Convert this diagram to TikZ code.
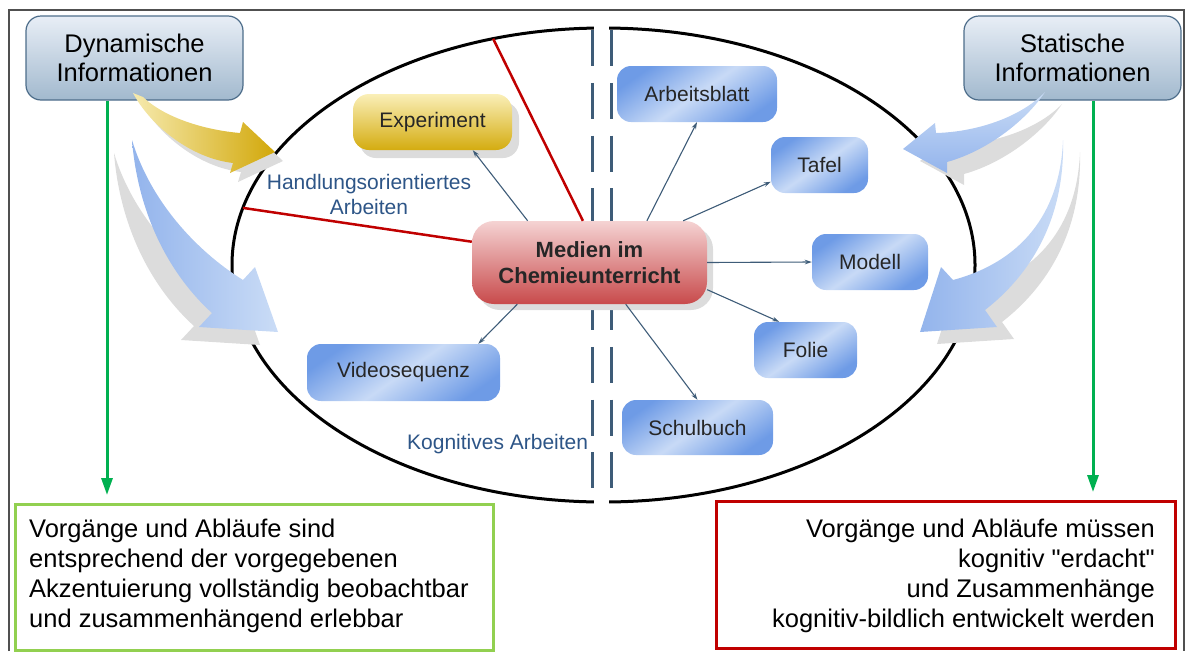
\documentclass[tikz,border=0pt]{standalone}
\usepackage{fontspec}
\setmainfont{Liberation Sans}[Ligatures=TeXOff]
\usetikzlibrary{arrows.meta,shapes.geometric,shadows,calc}
\newcommand\fsz[2]{\fontsize{#1}{#2}\selectfont}

\definecolor{framegrey}{HTML}{505050}
\definecolor{infotop}{HTML}{E8EEF6}
\definecolor{infobot}{HTML}{A2B9CE}
\definecolor{infoline}{HTML}{4D6D8A}
\definecolor{medtop}{HTML}{F5D3D3}
\definecolor{medbot}{HTML}{C84A4B}
\definecolor{exptop}{HTML}{FAEFB8}
\definecolor{expbot}{HTML}{D4AC10}
\definecolor{bdark}{HTML}{6E9BE6}
\definecolor{blight}{HTML}{C8DAF6}
\definecolor{arrdark}{HTML}{93B4EC}
\definecolor{arrlight}{HTML}{CADCF6}
\definecolor{ylight}{HTML}{F6EAAE}
\definecolor{ydark}{HTML}{D2A80A}
\definecolor{shadowgrey}{HTML}{DCDCDC}
\definecolor{slate}{HTML}{3E5C78}
\definecolor{linkred}{HTML}{C00000}
\definecolor{gline}{HTML}{00B050}
\definecolor{gbox}{HTML}{92D050}
\definecolor{labelblue}{HTML}{2D5587}
\definecolor{txt}{HTML}{262626}

\begin{document}
\begin{tikzpicture}[x=1pt,y=-1pt,
  info/.style={draw=infoline, line width=1.2pt, rounded corners=15pt,
    top color=infotop, bottom color=infobot, inner sep=0pt, align=center,
    font=\fsz{25.5}{29}, text=black, minimum width=217pt, minimum height=84pt},
  medbox/.style={rounded corners=22pt, top color=medtop, bottom color=medbot,
    inner sep=0pt, align=center, font=\fsz{22}{26}\bfseries, text=txt,
    minimum width=235pt, minimum height=83pt,
    drop shadow={shadow xshift=6pt, shadow yshift=-6pt, fill=shadowgrey, opacity=1}},
  expbox/.style={rounded corners=16pt, top color=exptop, bottom color=expbot,
    inner sep=0pt, font=\fsz{21}{25}, text=txt, minimum height=56pt,
    drop shadow={shadow xshift=7pt, shadow yshift=-8pt, fill=shadowgrey, opacity=1}},
  bluebox/.style={rounded corners=14pt, top color=bdark, bottom color=bdark,
    middle color=blight, shading angle=35, inner sep=0pt,
    font=\fsz{21}{25}, text=txt, minimum height=56pt},
  link/.style={draw=slate, line width=1.1pt, -{Stealth[length=7pt,width=4.5pt]}},
  redlink/.style={draw=linkred, line width=2.5pt},
  garrow/.style={draw=gline, line width=3pt, -{Triangle[length=17pt,width=11pt]}, shorten >=8pt},
  lbl/.style={font=\fsz{21}{25}, text=labelblue, inner sep=0pt},
  boxtext/.style={font=\fsz{25.5}{30}, text=black, inner sep=0pt}
]
\useasboundingbox (0,0) rectangle (1185,651);

% outer frame
\draw[framegrey, line width=2pt] (9,651) -- (9,10) -- (1183.5,10) -- (1183.5,651);

% central ellipse with openings for the divider
\node[draw=black, line width=3pt, ellipse, minimum width=743pt, minimum height=474pt,
  inner sep=0pt, outer sep=0pt] (ell) at (603.5,265) {};
\fill[white] (594,16) rectangle (609,42);
\fill[white] (594,488) rectangle (609,514);

% double dashed divider
\draw[slate, line width=3pt, dash pattern=on 36pt off 16.8pt] (592,30) -- (592,502);
\draw[slate, line width=3pt, dash pattern=on 36pt off 16.8pt] (611,30) -- (611,502);

% information boxes
\node[info] (dyn) at (134.5,58) {Dynamische\\Informationen};
\node[info] (sta) at (1072.5,58) {Statische\\Informationen};

% media nodes
\node[medbox] (med) at (589.5,262.5) {Medien im\\Chemieunterricht};
\node[expbox, minimum width=159pt] (exp) at (432.5,122) {Experiment};
\node[bluebox, minimum width=160pt] (arb) at (697,94) {Arbeitsblatt};
\node[bluebox, minimum width=97pt] (taf) at (819.5,165) {Tafel};
\node[bluebox, minimum width=116pt] (mod) at (870,262) {Modell};
\node[bluebox, minimum width=103pt] (fol) at (805.5,350) {Folie};
\node[bluebox, minimum width=151pt, minimum height=55pt] (sch) at (697.5,427.5) {Schulbuch};
\node[bluebox, minimum width=193pt, minimum height=57pt] (vid) at (403.5,372.5) {Videosequenz};

% red separators
\draw[redlink] (ell.116) -- (med.99);
\draw[redlink] (ell.171) -- (med.170);

% links from the centre
\draw[link] (med.146) -- (exp.325);
\draw[link] (med.36) -- (arb.south);
\draw[link] (med.24) -- (taf.199);
\draw[link] (med.east) -- (mod.west);
\draw[link] (med.-13) -- (fol.133);
\draw[link] (med.-49) -- (sch.north);
\draw[link] (med.210) -- (vid.21);

% labels (base anchor sits on the last line)
\node[lbl, anchor=base, align=center] (hand) at (369,214) {Handlungsorientiertes\\Arbeiten};
\node[lbl, anchor=base west] (kog) at (407,449) {Kognitives Arbeiten};

% curved block arrows
\path[preaction={fill=shadowgrey, transform canvas={shift={(8pt,-9pt)}}},
  left color=ylight, right color=ydark]
  (133,93) .. controls (150,125) and (190,158) .. (233,163) -- (230,173) -- (275,152)
  -- (243,122) -- (240,133) .. controls (205,130) and (165,118) .. (143,97) -- cycle;

\path[preaction={fill=shadowgrey, transform canvas={shift={(-18pt,-13pt)}}},
  left color=arrdark, right color=arrlight]
  (132,140) .. controls (150,200) and (195,250) .. (243,280) -- (255,267) -- (278,332)
  -- (199,327) -- (212,313) .. controls (170,275) and (138,215) .. (132,140) -- cycle;

\path[preaction={fill=shadowgrey, transform canvas={shift={(17pt,-12pt)}}},
  top color=arrlight, bottom color=arrdark]
  (1045,92) .. controls (1020,118) and (975,132) .. (936,133) -- (935,123) -- (903,149)
  -- (947,173) -- (947,162) .. controls (990,150) and (1028,118) .. (1045,92) -- cycle;

\path[preaction={fill=shadowgrey, transform canvas={shift={(17pt,-12pt)}}},
  left color=arrdark, right color=arrlight]
  (1063,140) .. controls (1060,215) and (1020,262) .. (953,280) -- (941,267) -- (920,332)
  -- (997,327) -- (985,310) .. controls (1030,275) and (1065,220) .. (1063,140) -- cycle;

% result boxes
\node[draw=gbox, line width=2.5pt, minimum width=478pt, minimum height=146pt,
  inner sep=0pt, anchor=north west] (boxL) at (14,503) {};
\node[draw=linkred, line width=2.5pt, minimum width=459pt, minimum height=147pt,
  inner sep=0pt, anchor=north west] (boxR) at (715,500) {};

\node[boxtext, anchor=base west, align=left] (txtL) at (29,627)
  {Vorgänge und Abläufe sind\\entsprechend der vorgegebenen\\Akzentuierung vollständig beobachtbar\\und zusammenhängend erlebbar};
\node[boxtext, anchor=base east, align=right] (txtR) at (1155,627)
  {Vorgänge und Abläufe müssen\\kognitiv "erdacht"\\und Zusammenhänge\\kognitiv-bildlich entwickelt werden};

% green arrows
\coordinate (gl) at (107,0);
\coordinate (gr) at (1093,0);
\draw[garrow] (dyn.south -| gl) -- (boxL.north -| gl);
\draw[garrow] (sta.south -| gr) -- (boxR.north -| gr);
\end{tikzpicture}
\end{document}
